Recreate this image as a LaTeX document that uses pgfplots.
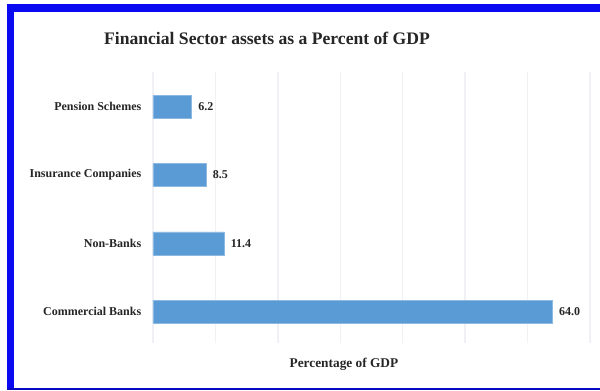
\documentclass[border=0pt]{standalone}
\usepackage{fontspec}
\setmainfont{Liberation Serif}
\usepackage{pgfplots}
\pgfplotsset{compat=1.18}
\definecolor{barblue}{RGB}{91,155,213}
\definecolor{frameblue}{RGB}{10,10,240}
\definecolor{gridc}{RGB}{240,240,245}
\begin{document}
\begin{tikzpicture}[x=0.75pt,y=0.75pt]
\useasboundingbox (0,0) rectangle (600,390);
\fill[white] (0,0) rectangle (600,390);
\begin{axis}[
  at={(114.75pt,35.25pt)}, anchor=south west,
  scale only axis,
  width=327.75pt, height=203.25pt,
  xbar, bar width=17.25pt,
  xmin=0, xmax=70, ymin=-0.46, ymax=3.51,
  xtick={0,10,...,70}, xticklabels={},
  ytick={0,1,2,3},
  yticklabels={Commercial Banks,Non-Banks,Insurance Companies,Pension Schemes},
  yticklabel style={font=\fontsize{9}{10}\selectfont\bfseries, xshift=-1pt, text=black!85},
  xmajorgrids, major grid style={gridc, line width=1pt},
  axis line style={draw=none}, tick style={draw=none},
  /pgf/number format/assume math mode=true,
  nodes near coords={\pgfmathprintnumber[fixed,fixed zerofill,precision=1]{\pgfplotspointmeta}},
  nodes near coords style={font=\fontsize{9}{10}\selectfont\bfseries, anchor=west, xshift=1.5pt, text=black!85},
  xlabel={Percentage of GDP},
  every axis x label/.style={at={(rel axis cs:0.437,0)}, anchor=north, yshift=-8pt, font=\fontsize{10}{12}\selectfont\bfseries, text=black!85},
]
\addplot[fill=barblue, draw=barblue!70!white] coordinates {(64.0,0) (11.4,1) (8.5,2) (6.2,3)};
\end{axis}
\node[font=\fontsize{13.2}{15}\selectfont\bfseries, text=black!85] at (267,352) {Financial Sector assets as a Percent of GDP};
\fill[frameblue] (7,0) rectangle (14,386);
\fill[frameblue] (7,378) rectangle (600,386);
\fill[frameblue!80!black] (7,0.5) rectangle (600,2.5);
\end{tikzpicture}
\end{document}
